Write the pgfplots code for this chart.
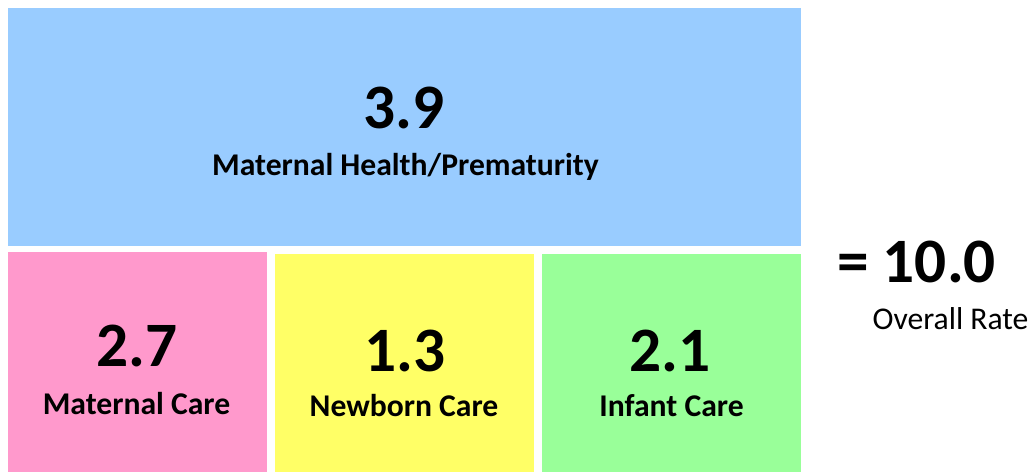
\documentclass[border=0pt]{standalone}
\usepackage{pgfplots}
\pgfplotsset{compat=1.18}
\usepackage{fontspec}
\setmainfont{Carlito}
\definecolor{cblue}{HTML}{99CCFF}
\definecolor{cpink}{HTML}{FF99CC}
\definecolor{cyellow}{HTML}{FFFF66}
\definecolor{cgreen}{HTML}{99FF99}
\begin{document}
\begin{tikzpicture}
\begin{axis}[
  at={(0,0)}, anchor=south west,
  scale only axis, width=10.36cm, height=4.72cm,
  xmin=0, xmax=1036, ymin=0, ymax=472, y dir=reverse,
  hide axis, enlargelimits=false, clip=false,
]
\addplot[draw=none, fill=cblue] coordinates {(8,8) (801,8) (801,245.5) (8,245.5)} --cycle;
\addplot[draw=none, fill=cpink] coordinates {(8,252) (267,252) (267,472) (8,472)} --cycle;
\addplot[draw=none, fill=cyellow] coordinates {(275,254) (533.7,254) (533.7,472) (275,472)} --cycle;
\addplot[draw=none, fill=cgreen] coordinates {(542,254) (801,254) (801,472) (542,472)} --cycle;

\node[anchor=base, font=\bfseries\fontsize{18}{20}\selectfont] at (axis cs:404,128.3) {3.9};
\node[anchor=base, font=\bfseries\fontsize{9}{10}\selectfont] at (axis cs:405.5,175) {Maternal Health/Prematurity};
\node[anchor=base, font=\bfseries\fontsize{18}{20}\selectfont] at (axis cs:137,366.7) {2.7};
\node[anchor=base, font=\bfseries\fontsize{9}{10}\selectfont] at (axis cs:136.5,414.3) {Maternal Care};
\node[anchor=base, font=\bfseries\fontsize{18}{20}\selectfont] at (axis cs:405,371) {1.3};
\node[anchor=base, font=\bfseries\fontsize{9}{10}\selectfont] at (axis cs:404,416) {Newborn Care};
\node[anchor=base, font=\bfseries\fontsize{18}{20}\selectfont] at (axis cs:670,371) {2.1};
\node[anchor=base, font=\bfseries\fontsize{9}{10}\selectfont] at (axis cs:671.5,416) {Infant Care};
\node[anchor=base, font=\bfseries\fontsize{18}{20}\selectfont] at (axis cs:916.5,282.7) {= 10.0};
\node[anchor=base, font=\fontsize{9}{10}\selectfont] at (axis cs:950.5,329.3) {Overall Rate};
\end{axis}
\pgfresetboundingbox
\path (0,0) rectangle (10.36cm,4.72cm);
\end{tikzpicture}
\end{document}
